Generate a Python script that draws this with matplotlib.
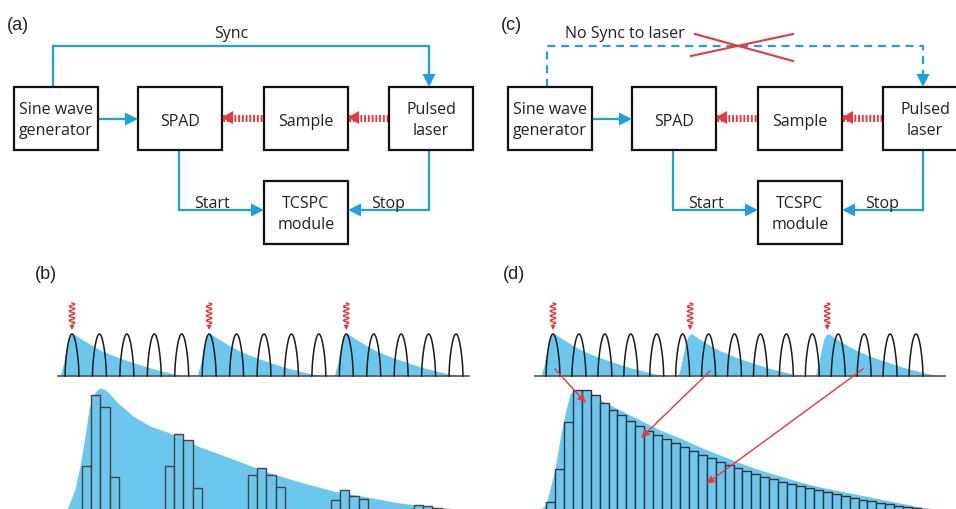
import numpy as np
import matplotlib.pyplot as plt
from matplotlib.patches import Rectangle, Polygon
from matplotlib import font_manager

# narrow humanist-ish face for the diagram labels if available
names = {f.name for f in font_manager.fontManager.ttflist}
LABEL_FONT = ['Liberation Sans Narrow', 'DejaVu Sans'] if 'Liberation Sans Narrow' in names else ['Open Sans', 'DejaVu Sans']
LABEL_SIZE = 12 if 'Liberation Sans Narrow' in names else 11.5
plt.rcParams['font.family'] = LABEL_FONT

W, H = 956, 510
BLUE = '#1ba1df'
FILL = '#6cc7ef'
RED = '#e8373d'
INK = '#231f20'
BASE = 520  # histogram baseline, just below the bottom edge

# block diagram, panel (a); panel (c) is the same block moved right
box_labels = [['Sine wave', 'generator'], ['SPAD'], ['Sample'], ['Pulsed', 'laser'], ['TCSPC', 'module']]
box_x = [14, 138, 264, 389, 264]
box_y = [88, 88, 88, 88, 182]
box_w, box_h = 84, 63
shift_c = 494

# gate pulses from the sine wave and the laser shots
n_gates = 15
gate_period_b = 27.43
gate_period_d = 25.93
laser_period = 137.1
n_shots = 3

# fluorescence decay shape (px from peak, fraction of gate height)
decay_dx = [-12, -9, -7, -5, -3, 0, 2, 8, 15, 22, 30, 40, 50, 60, 70, 80, 90, 102, 115]
decay_h = [0, 0.25, 0.5, 0.72, 0.9, 1.0, 1.0, 0.9, 0.8, 0.7, 0.6, 0.5, 0.41, 0.33, 0.25, 0.18, 0.12, 0.05, 0]

# histogram (b): synced, photons land only in a few bins
hist_b_bins = [0, 1, 2, 3, 9, 10, 11, 12, 18, 19, 20, 21, 27, 28, 29, 30, 36, 37, 38, 39]
hist_b_counts = [53, 124, 112, 42, 53, 85, 79, 31, 44, 51, 44, 32, 19, 29, 23, 20, 14, 13, 11, 10]
env_b_x = [66, 68, 75, 80, 85, 89, 93, 97, 100, 104, 108, 117, 133, 150, 167, 187, 200, 233, 267, 300, 333,
           367, 400, 433, 450]
env_b_h = [0, 12, 30, 53, 83, 110, 123, 129, 131, 130, 127, 117, 103, 93, 87, 78, 72, 60, 47, 37, 28, 22,
           16, 12, 10]

# histogram (d): not synced, every bin filled
hist_d_counts = [17, 50, 97, 129, 129, 124, 116, 109, 104, 98, 93, 88, 84, 80, 76, 72, 68, 64, 61, 57, 54,
                 51, 48, 45, 42, 40, 37, 35, 33, 31, 29, 27, 25, 23, 21, 19, 18, 16, 15, 13, 12, 11]
env_d_x = [539, 541, 546, 550, 555, 560, 565, 570, 575, 590, 600, 620, 640, 660, 680, 700, 720, 740, 760,
           780, 800, 820, 840, 860, 880, 900, 920, 935]
env_d_h = [0, 10, 15, 30, 50, 80, 105, 125, 129, 127, 119, 109, 99, 89, 81, 72, 64, 56, 49, 43, 37, 32,
           28, 24, 20, 16, 12, 10]

# photon -> histogram bin arrows in (d)
links_d = [((555, 370), (586, 404)), ((710, 372), (641, 439)), ((863, 370), (706, 485))]

fig = plt.figure(figsize=(W / 100, H / 100), dpi=100)
ax = fig.add_axes([0, 0, 1, 1])
ax.set_xlim(0, W)
ax.set_ylim(H, 0)
ax.axis('off')


def head(tip, d, color, length=13, half=6.5, z=5):
    d = np.array(d, float)
    d /= np.hypot(*d)
    b = np.array(tip) - d * length
    p = np.array([-d[1], d[0]])
    ax.add_patch(Polygon([tip, b + p * half, b - p * half], closed=True, fc=color, ec='none', zorder=z))


def connector(pts, dashed=False):
    pts = np.array(pts, float)
    d = pts[-1] - pts[-2]
    d /= np.hypot(*d)
    line = pts.copy()
    line[-1] = pts[-1] - d * 11
    ax.plot(line[:, 0], line[:, 1], color=BLUE, lw=1.6,
            ls=(0, (3.6, 2.6)) if dashed else '-', solid_joinstyle='miter')
    head(tuple(pts[-1]), d, BLUE)


def beam(x_from, x_to, y):
    ax.plot([x_from, x_to - 10], [y, y], color=RED, lw=5, ls=(0, (0.27, 0.27)), dash_capstyle='butt')
    head((x_to, y), (-1, 0), RED, length=11, half=6.5)


def txt(x, y, s, ha='center'):
    ax.text(x, y, s, ha=ha, va='baseline', fontsize=LABEL_SIZE, color=INK, zorder=4)


def block(s, label, sync_text, dashed):
    ax.text(s + 7, 26, label, family=['Liberation Sans', 'DejaVu Sans'], fontsize=13, va='center', color=INK)
    for x, y, lines in zip(box_x, box_y, box_labels):
        ax.add_patch(Rectangle((x + s, y), box_w, box_h, fc='white', ec='#111', lw=1.6, zorder=3))
        cx = x + s + box_w / 2
        if len(lines) == 1:
            txt(cx, y + 38, lines[0])
        else:
            txt(cx, y + 26, lines[0])
            txt(cx, y + 47, lines[1])
    sx = box_x[0] + s + 39
    lx = box_x[3] + s + 40
    connector([(sx, box_y[0]), (sx, 47), (lx, 47), (lx, box_y[3])], dashed=dashed)
    connector([(box_x[0] + s + box_w, 120), (box_x[1] + s, 120)])
    spx = box_x[1] + s + 41
    connector([(spx, box_y[1] + box_h), (spx, 211), (box_x[4] + s, 211)])
    connector([(lx, box_y[3] + box_h), (lx, 211), (box_x[4] + s + box_w, 211)])
    beam(box_x[2] + s - 2, box_x[1] + s + box_w, 118.5)
    beam(box_x[3] + s - 1, box_x[2] + s + box_w, 118.5)
    txt(s + 212, 208, 'Start')
    txt(s + 388, 208, 'Stop')
    if dashed:
        txt(s + 71, 38, sync_text, ha='left')
    else:
        txt(s + 231, 38, sync_text)


block(0, '(a)', 'Sync', False)
block(shift_c, '(c)', 'No Sync to laser', True)
ax.plot([695, 793], [35, 62], color=RED, lw=1.5)
ax.plot([691, 793], [57, 35], color=RED, lw=1.5)


def photon(x):
    t = np.linspace(0, 1, 80)
    ax.plot(x + 2.8 * np.sin(2 * np.pi * 4.5 * t), 304 + 21 * t, color=RED, lw=1)
    head((x, 331), (0, 1), RED, length=5, half=2.6)


def pulse_row(x0, x1, first, period, label, lx):
    base, gh = 377, 42
    ax.text(lx, 275, label, family=['Liberation Sans', 'DejaVu Sans'], fontsize=13, va='center', color=INK)
    for k in range(n_shots):
        px = first + k * laser_period
        ax.fill_between(px + np.array(decay_dx), base - np.array(decay_h) * gh, base, color=FILL, lw=0)
        photon(px)
    ax.plot([x0, x1], [base, base], color='#555', lw=1.2)
    u = np.linspace(-1, 1, 41)
    arch = np.cos(np.pi / 2 * u) ** 0.6
    for k in range(n_gates):
        c = first + k * period
        ax.plot(c + 7 * u, base - gh * arch, color='#1a1a1a', lw=1.1)


pulse_row(58, 469, 72, gate_period_b, '(b)', 35)
pulse_row(535, 945, 553, gate_period_d, '(d)', 503)

# histograms
bw_b, left_b = 9.22, 82
ax.fill_between(env_b_x, BASE - np.array(env_b_h), BASE, color=FILL, lw=0)
ax.bar(left_b + np.array(hist_b_bins) * bw_b, -np.array(hist_b_counts), bottom=BASE, width=bw_b,
       align='edge', color=FILL, edgecolor='#444', lw=1)

bw_d, left_d = 8.93, 546
ax.fill_between(env_d_x, BASE - np.array(env_d_h), BASE, color=FILL, lw=0)
ax.bar(left_d + np.arange(len(hist_d_counts)) * bw_d, -np.array(hist_d_counts), bottom=BASE, width=bw_d,
       align='edge', color=FILL, edgecolor='#333', lw=1)

for a, b in links_d:
    d = np.array(b, float) - np.array(a, float)
    d /= np.hypot(*d)
    e = np.array(b) - d * 7
    ax.plot([a[0], e[0]], [a[1], e[1]], color=RED, lw=1, zorder=6)
    head(b, d, RED, length=9, half=4, z=6)

fig.savefig('out.png', dpi=100, facecolor='white')
